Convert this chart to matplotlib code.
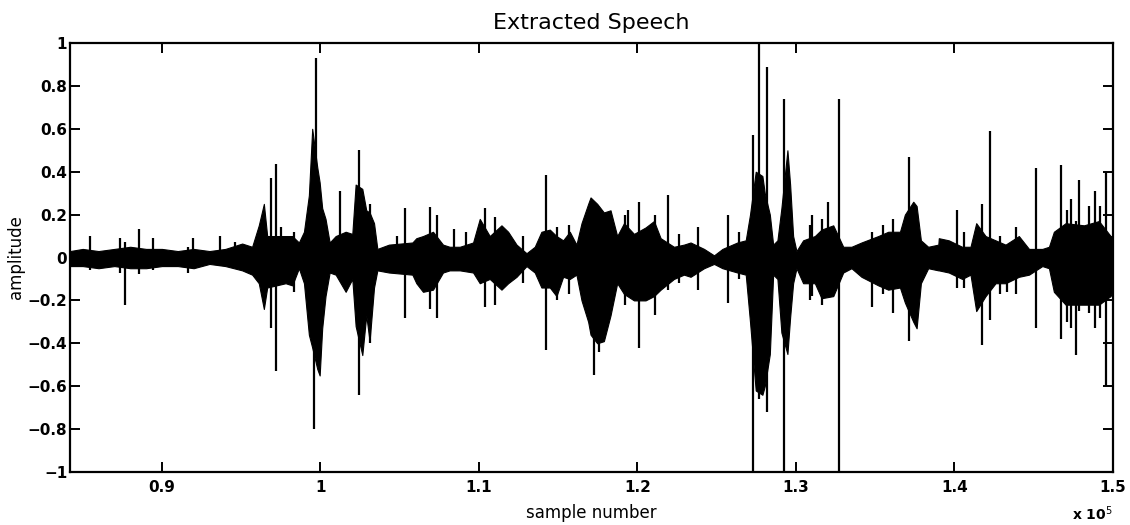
import matplotlib
matplotlib.use("Agg")
import matplotlib.pyplot as plt
import numpy as np

plt.rcParams['font.family'] = ['DejaVu Sans']

# ---- envelope of the waveform (sample number, upper, lower) ----
env_x = [84200, 85000, 86000, 87000, 88000, 89000, 90000, 91000, 92000, 93000, 94000, 95060,
         95690, 96110, 96430, 96640, 97800, 98220, 98640, 98960, 99270, 99480, 99800, 99950,
         100110, 100320, 100580, 100960, 101590, 102010, 102220, 102640, 102890, 103100, 103380,
         103590, 104320, 105800,
         106050, 106470, 107100, 107730, 108150, 108790, 109630, 110050, 110680, 111420, 111840,
         112370, 113000, 113520, 113940, 114470, 114890, 115310, 115730, 116150, 116470, 116890,
         117040, 117460, 117880, 118300, 118720, 119150, 119780, 120510, 121040, 121460, 122300,
         122930, 123350, 124200, 124830, 125360, 126300, 126830, 127100, 127460, 127880,
         128030, 128350, 128560, 128830, 129080, 129460, 129630, 129820, 130030, 130450, 131190,
         131610, 132350, 132980, 133500, 134130, 135190, 135820, 136560, 136870, 137400, 137610,
         137880, 138340, 138980,
         139010, 139640, 140480, 141010, 141370, 141960, 142590, 143220, 144060, 144700, 145540,
         145960, 146270, 147010, 148170, 149110, 149850, 150000]
env_upper = [0.03, 0.04, 0.03, 0.04, 0.05, 0.04, 0.04, 0.03, 0.04, 0.03, 0.04, 0.065,
             0.05, 0.15, 0.25, 0.10, 0.10, 0.10, 0.07, 0.12, 0.29, 0.60, 0.42, 0.35,
             0.23, 0.18, 0.07, 0.10, 0.12, 0.11, 0.34, 0.32, 0.22, 0.21, 0.16,
             0.04, 0.06, 0.07,
             0.09, 0.10, 0.12, 0.06, 0.05, 0.05, 0.07, 0.18, 0.10, 0.15, 0.12,
             0.06, 0.02, 0.05, 0.12, 0.13, 0.10, 0.08, 0.12, 0.06, 0.16, 0.25,
             0.28, 0.25, 0.21, 0.22, 0.10, 0.16, 0.11, 0.14, 0.17, 0.09, 0.05,
             0.06, 0.07, 0.04, 0.01, 0.04, 0.07, 0.08, 0.20, 0.40, 0.38,
             0.30, 0.20, 0.06, 0.08, 0.23, 0.50, 0.34, 0.10, 0.03, 0.08, 0.10,
             0.13, 0.15, 0.05, 0.05, 0.07, 0.10, 0.12, 0.12, 0.20, 0.26, 0.24,
             0.08, 0.05, 0.06,
             0.09, 0.08, 0.05, 0.05, 0.16, 0.10, 0.08, 0.06, 0.10, 0.04, 0.04,
             0.05, 0.12, 0.16, 0.15, 0.17, 0.10, 0.10]
env_lower = [-0.04, -0.04, -0.05, -0.04, -0.05, -0.05, -0.04, -0.04, -0.05, -0.03, -0.04, -0.06,
             -0.08, -0.12, -0.24, -0.14, -0.12, -0.13, -0.05, -0.12, -0.36, -0.42, -0.52, -0.55,
             -0.33, -0.18, -0.07, -0.08, -0.16, -0.10, -0.32, -0.455, -0.27, -0.39, -0.14,
             -0.06, -0.07, -0.08,
             -0.12, -0.16, -0.15, -0.07, -0.06, -0.06, -0.07, -0.12, -0.10, -0.15, -0.12,
             -0.09, -0.04, -0.07, -0.14, -0.14, -0.18, -0.09, -0.10, -0.08, -0.20, -0.30,
             -0.36, -0.40, -0.39, -0.27, -0.12, -0.17, -0.20, -0.20, -0.18, -0.15, -0.10,
             -0.08, -0.09, -0.05, -0.03, -0.05, -0.07, -0.08, -0.30, -0.62, -0.64,
             -0.60, -0.45, -0.08, -0.10, -0.35, -0.45, -0.28, -0.12, -0.05, -0.12, -0.12,
             -0.19, -0.18, -0.07, -0.05, -0.09, -0.13, -0.15, -0.14, -0.21, -0.30, -0.33,
             -0.12, -0.05, -0.06,
             -0.06, -0.07, -0.10, -0.08, -0.25, -0.18, -0.12, -0.12, -0.09, -0.08, -0.04,
             -0.05, -0.16, -0.22, -0.22, -0.22, -0.18, -0.15]

# ---- isolated spikes (sample number, top, bottom) ----
spike_x = [85440, 87330, 87650, 88530, 89440, 91650, 91960, 93650, 94600,
           96910, 97170, 97480, 99590, 99730, 101230, 102430, 104850, 105330,
           106890, 107360, 108410, 109170, 110370, 111000, 114260,
           117250, 117570, 119400, 120090, 121920, 123820, 125710,
           127290, 127670, 128200, 129250, 130980, 131990, 132700, 134770, 136130, 137120,
           140170, 141750, 142270, 142840, 143330, 145120, 146690, 147330, 147680, 147850,
           148480, 148860, 149540,
           98300, 103150, 112800, 114900, 115700, 119200, 121100, 122600, 126400,
           130900, 131650, 135500, 140600, 143900, 147100, 149200]
spike_top = [0.10, 0.09, 0.07, 0.135, 0.09, 0.05, 0.09, 0.10, 0.07,
             0.37, 0.435, 0.14, 0.45, 0.93, 0.31, 0.50, 0.10, 0.23,
             0.235, 0.20, 0.135, 0.12, 0.23, 0.19, 0.385,
             0.25, 0.22, 0.22, 0.26, 0.29, 0.14, 0.20,
             0.57, 1.00, 0.89, 0.74, 0.20, 0.26, 0.74, 0.12, 0.18, 0.47,
             0.22, 0.25, 0.59, 0.10, 0.06, 0.415, 0.43, 0.275, 0.17, 0.36,
             0.24, 0.31, 0.40,
             0.12, 0.25, 0.10, 0.14, 0.15, 0.20, 0.20, 0.11, 0.12,
             0.15, 0.18, 0.15, 0.12, 0.14, 0.22, 0.24]
spike_bottom = [-0.06, -0.07, -0.22, -0.075, -0.06, -0.07, -0.05, -0.04, -0.05,
                -0.33, -0.53, -0.10, -0.80, -0.45, -0.08, -0.64, -0.06, -0.28,
                -0.24, -0.28, -0.06, -0.06, -0.23, -0.22, -0.43,
                -0.55, -0.44, -0.15, -0.42, -0.15, -0.15, -0.21,
                -1.00, -0.66, -0.72, -1.00, -0.18, -0.18, -1.00, -0.23, -0.26, -0.39,
                -0.14, -0.41, -0.29, -0.17, -0.16, -0.33, -0.38, -0.33, -0.455, -0.25,
                -0.26, -0.33, -0.60,
                -0.16, -0.40, -0.12, -0.20, -0.17, -0.22, -0.27, -0.12, -0.10,
                -0.20, -0.22, -0.17, -0.14, -0.17, -0.30, -0.28]

x_ticks = [90000, 100000, 110000, 120000, 130000, 140000, 150000]
x_tick_labels = ["0.9", "1", "1.1", "1.2", "1.3", "1.4", "1.5"]
y_ticks = [-1, -0.8, -0.6, -0.4, -0.2, 0, 0.2, 0.4, 0.6, 0.8, 1]
y_tick_labels = ["\u22121", "\u22120.8", "\u22120.6", "\u22120.4", "\u22120.2", "0",
                 "0.2", "0.4", "0.6", "0.8", "1"]

fig = plt.figure(figsize=(11.3, 5.25), dpi=100)
ax = fig.add_axes([70 / 1130, 1 - 472 / 525, (1113 - 70) / 1130, (472 - 43) / 525])

ax.fill_between(env_x, env_lower, env_upper, color='black', linewidth=0.8)
ax.vlines(spike_x, spike_bottom, spike_top, color='black', linewidth=1.6)

ax.set_xlim(84200, 150000)
ax.set_ylim(-1, 1)
ax.set_xticks(x_ticks)
ax.set_xticklabels(x_tick_labels)
ax.set_yticks(y_ticks)
ax.set_yticklabels(y_tick_labels)

for sp in ax.spines.values():
    sp.set_linewidth(1.6)
ax.tick_params(direction='in', length=7, width=1.4, top=True, right=True,
               labelsize=11)
ax.tick_params(axis='y', pad=2)
ax.tick_params(axis='x', pad=6)
for lab in ax.get_xticklabels() + ax.get_yticklabels():
    lab.set_fontweight('bold')

ax.set_title("Extracted Speech", fontsize=16, pad=10)
ax.set_xlabel("sample number", fontsize=12, labelpad=6)
ax.set_ylabel("amplitude", fontsize=12, labelpad=2)
ax.text(1.0, -0.098, "x 10$^5$", transform=ax.transAxes, ha='right', va='center',
        fontsize=10, fontweight='bold')

fig.savefig("out.png", dpi=100)
